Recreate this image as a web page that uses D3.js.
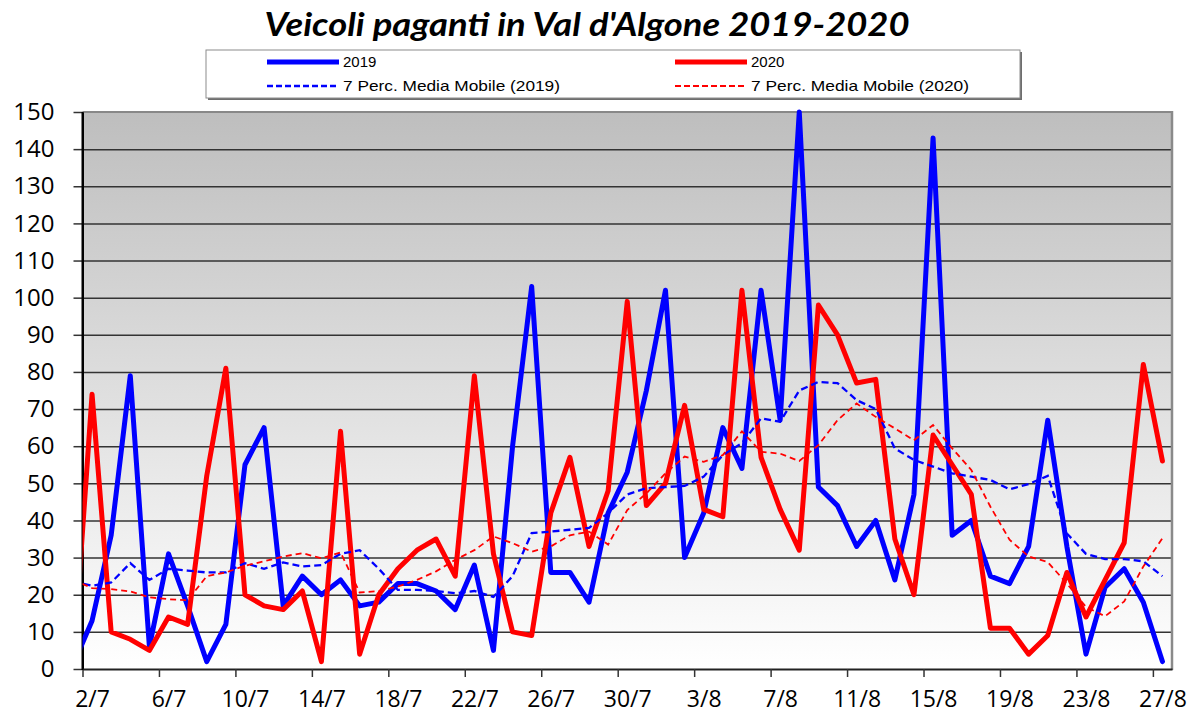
<!DOCTYPE html>
<html>
<head>
<meta charset="utf-8">
<script src="https://cdn.jsdelivr.net/npm/d3@7"></script>
<style>
  html, body { margin: 0; padding: 0; background: #fff; }
  svg { display: block; }
</style>
</head>
<body>
<svg id="chart" width="1191" height="715"></svg>
<script>
// ---------- DATA ----------
const days = ["1/7","2/7","3/7","4/7","5/7","6/7","7/7","8/7","9/7","10/7","11/7","12/7","13/7","14/7","15/7","16/7","17/7","18/7","19/7","20/7","21/7","22/7","23/7","24/7","25/7","26/7","27/7","28/7","29/7","30/7","31/7",
  "1/8","2/8","3/8","4/8","5/8","6/8","7/8","8/8","9/8","10/8","11/8","12/8","13/8","14/8","15/8","16/8","17/8","18/8","19/8","20/8","21/8","22/8","23/8","24/8","25/8","26/8","27/8"];

const tickLabels = ["2/7","6/7","10/7","14/7","18/7","22/7","26/7","30/7","3/8","7/8","11/8","15/8","19/8","23/8","27/8"];

const values2019 = [1,13,36,79,6,31,17,2,12,55,65,17,25,20,24,17,18,23,23,21,16,28,5,60,103,26,26,18,42,53,75,102,30,42,65,54,102,67,150,49,44,33,40,24,47,143,36,40,25,23,33,67,33,4,22,27,18,2];

const values2020 = [0,74,10,8,5,14,12,52,81,20,17,16,21,2,64,4,20,27,32,35,25,79,31,10,9,42,57,33,48,99,44,50,71,43,41,102,57,43,32,98,90,77,78,35,20,63,55,47,11,11,4,9,26,14,24,34,82,56];

const ma2019 = [23.6,22.4,23.3,28.5,24,27,26.5,26,26,28.5,27,28.7,27.6,28,31,32,27,21.3,21.3,21,20.4,21,19.4,25,36.6,37,37.5,38,42,47,48.7,49,49.3,51.8,57.6,60.8,67.5,66.6,75,77.3,77,72.4,70,59.4,56.3,54.5,52.7,51.8,50.9,48.4,49.8,52,36.5,31,29.6,29.6,29,25];

const ma2020 = [24,21.8,21.5,20.9,19.3,18.8,18.5,25,26,27.8,29,30.3,31.2,29.8,31.4,20.6,21,22.2,24,26.3,29.4,32,35.7,33.9,31.6,33,36,37,33.5,42.8,47.3,52.7,57.2,55.8,57.6,64,58.5,58,56,60.3,67,71.5,67.9,64.8,61.6,65.7,59.4,53.6,43.7,34.8,30.3,28.8,23,16.7,14.2,18.2,27.6,35.2];

const titleText = "Veicoli paganti in Val d'Algone 2019-2020";
const legendLabels = ["2019", "2020", "7 Perc. Media Mobile (2019)", "7 Perc. Media Mobile (2020)"];

// ---------- LAYOUT ----------
const svg = d3.select("#chart");
const W = 1191, H = 715;
const plot = { left: 82.5, right: 1172, top: 112, bottom: 669 };

svg.append("rect").attr("width", W).attr("height", H).attr("fill", "#fff");

const firstShown = days.indexOf("2/7");
const lastShown = days.indexOf("27/8");
const x = d3.scaleLinear()
  .domain([firstShown - 0.5, lastShown + 0.5])
  .range([plot.left, plot.right]);
const y = d3.scaleLinear().domain([0, 150]).range([plot.bottom, plot.top]);

// gradient background
const defs = svg.append("defs");
const grad = defs.append("linearGradient").attr("id", "bg").attr("x1", 0).attr("y1", 0).attr("x2", 0).attr("y2", 1);
grad.append("stop").attr("offset", "0%").attr("stop-color", "#bebebe");
grad.append("stop").attr("offset", "100%").attr("stop-color", "#ffffff");
defs.append("clipPath").attr("id", "clip")
  .append("rect").attr("x", plot.left).attr("y", plot.top - 6)
  .attr("width", plot.right - plot.left).attr("height", plot.bottom - plot.top + 12);

svg.append("rect")
  .attr("x", plot.left).attr("y", plot.top)
  .attr("width", plot.right - plot.left).attr("height", plot.bottom - plot.top)
  .attr("fill", "url(#bg)");

// gridlines
const gridG = svg.append("g").attr("transform", `translate(${plot.left},0)`)
  .call(d3.axisLeft(y).tickValues(d3.range(10, 150, 10)).tickSize(-(plot.right - plot.left)).tickFormat(""));
gridG.select(".domain").remove();
gridG.selectAll(".tick line").attr("stroke", "#333").attr("stroke-width", 1.5);

// frame: top & right gray
svg.append("line").attr("x1", plot.left).attr("x2", plot.right).attr("y1", plot.top).attr("y2", plot.top)
  .attr("stroke", "#888").attr("stroke-width", 2);
svg.append("line").attr("x1", plot.right).attr("x2", plot.right).attr("y1", plot.top - 1).attr("y2", plot.bottom + 1)
  .attr("stroke", "#8a8a8a").attr("stroke-width", 2.5);

// Y axis
const yAxis = svg.append("g").attr("transform", `translate(${plot.left},0)`)
  .call(d3.axisLeft(y).tickValues(d3.range(0, 151, 10)).tickSize(9).tickPadding(19).tickSizeOuter(0));
yAxis.select(".domain").attr("stroke", "#000").attr("stroke-width", 2);
yAxis.selectAll(".tick line").attr("stroke", "#333").attr("stroke-width", 1.5);
yAxis.selectAll(".tick text")
  .attr("font-family", "'Open Sans', sans-serif").attr("font-size", 24).attr("fill", "#000");

// X axis (ticks at category boundaries)
const boundaryTicks = tickLabels.map(l => days.indexOf(l) - 0.5);
const xAxis = svg.append("g").attr("transform", `translate(0,${plot.bottom})`)
  .call(d3.axisBottom(x).tickValues(boundaryTicks).tickSize(8).tickSizeOuter(0).tickFormat(""));
xAxis.select(".domain").attr("stroke", "#222").attr("stroke-width", 2);
xAxis.selectAll(".tick line").attr("stroke", "#333").attr("stroke-width", 1.5);

// X labels centred in categories
const centreTicks = tickLabels.map(l => days.indexOf(l));
const xLab = svg.append("g").attr("transform", `translate(0,${plot.bottom})`)
  .call(d3.axisBottom(x).tickValues(centreTicks).tickSize(0).tickPadding(22)
    .tickFormat((d, i) => tickLabels[i]));
xLab.select(".domain").remove();
xLab.selectAll(".tick text")
  .attr("font-family", "'Open Sans', sans-serif").attr("font-size", 23).attr("fill", "#000");

// left axis line on top
svg.append("line").attr("x1", plot.left).attr("x2", plot.left).attr("y1", plot.top).attr("y2", plot.bottom + 1)
  .attr("stroke", "#000").attr("stroke-width", 2);

// ---------- SERIES ----------
const lineGen = d3.line().x((d, i) => x(i)).y(d => y(d));
const series = svg.append("g").attr("clip-path", "url(#clip)");

series.append("path").datum(values2019).attr("d", lineGen)
  .attr("fill", "none").attr("stroke", "#0000ff").attr("stroke-width", 5)
  .attr("stroke-linejoin", "round").attr("stroke-linecap", "round");
series.append("path").datum(values2020).attr("d", lineGen)
  .attr("fill", "none").attr("stroke", "#ff0000").attr("stroke-width", 5)
  .attr("stroke-linejoin", "round").attr("stroke-linecap", "round");
series.append("path").datum(ma2019).attr("d", lineGen)
  .attr("fill", "none").attr("stroke", "#0000ff").attr("stroke-width", 2.3)
  .attr("stroke-dasharray", "7,4");
series.append("path").datum(ma2020).attr("d", lineGen)
  .attr("fill", "none").attr("stroke", "#ff0000").attr("stroke-width", 1.8)
  .attr("stroke-dasharray", "6,4");

// ---------- TITLE ----------
svg.append("text")
  .attr("x", 587).attr("y", 36)
  .attr("text-anchor", "middle")
  .attr("font-family", "Lato, 'Open Sans', sans-serif")
  .attr("font-size", 33).attr("font-weight", "bold").attr("font-style", "italic")
  .attr("textLength", 645).attr("lengthAdjust", "spacingAndGlyphs")
  .attr("fill", "#000")
  .text(titleText);

// ---------- LEGEND ----------
const lg = svg.append("g");
lg.append("rect").attr("x", 208).attr("y", 52).attr("width", 814).attr("height", 48).attr("fill", "#6e6e6e");
lg.append("rect").attr("x", 206).attr("y", 50).attr("width", 814).attr("height", 48)
  .attr("fill", "#fff").attr("stroke", "#8c8c8c").attr("stroke-width", 1);

const legendItems = [
  { label: legendLabels[0], color: "#0000ff", w: 5, dash: null, x0: 267, y0: 62, len: null },
  { label: legendLabels[1], color: "#ff0000", w: 5, dash: null, x0: 675, y0: 62, len: null },
  { label: legendLabels[2], color: "#0000ff", w: 2.3, dash: "6,3", x0: 267, y0: 86, len: 217 },
  { label: legendLabels[3], color: "#ff0000", w: 2, dash: "6,3", x0: 675, y0: 86, len: 218 }
];
legendItems.forEach(it => {
  lg.append("line").attr("x1", it.x0).attr("x2", it.x0 + 72).attr("y1", it.y0).attr("y2", it.y0)
    .attr("stroke", it.color).attr("stroke-width", it.w)
    .attr("stroke-dasharray", it.dash);
  const t = lg.append("text").attr("x", it.x0 + 76).attr("y", it.y0 + 5)
    .attr("font-family", "'Liberation Sans', Arial, sans-serif").attr("font-size", 15)
    .attr("fill", "#000").text(it.label);
  if (it.len) t.attr("textLength", it.len).attr("lengthAdjust", "spacingAndGlyphs");
});
</script>
</body>
</html>
